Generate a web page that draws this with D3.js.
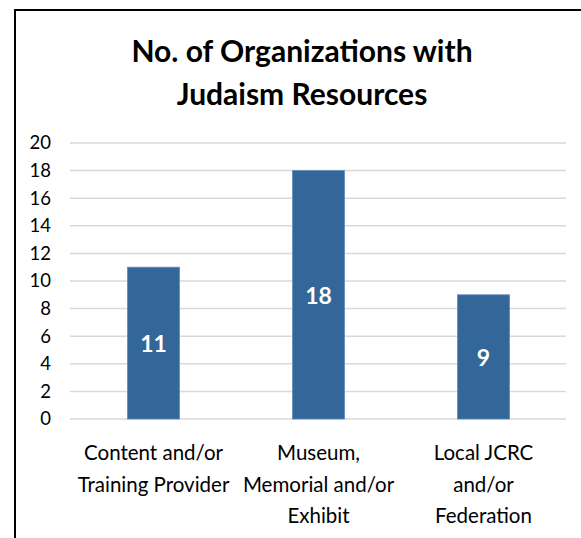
<!DOCTYPE html>
<html>
<head>
<meta charset="utf-8">
<script src="https://cdn.jsdelivr.net/npm/d3@7"></script>
<style>
  body { margin: 0; background: #fff; }
  text { font-family: Lato, "Open Sans", sans-serif; }
</style>
</head>
<body>
<div id="main"></div>
<script>
const categories = [
  ["Content and/or", "Training Provider"],
  ["Museum,", "Memorial and/or", "Exhibit"],
  ["Local JCRC", "and/or", "Federation"]
];
const values = [11, 18, 9];
const yTicks = [0, 2, 4, 6, 8, 10, 12, 14, 16, 18, 20];
const titleLines = ["No. of Organizations with", "Judaism Resources"];

const width = 581, height = 538;
const plot = { left: 71, right: 566, top: 143, bottom: 419 };

const svg = d3.select("#main")
  .append("svg")
  .attr("width", width)
  .attr("height", height);

// chart frame (only left and top edges are visible in the crop)
svg.append("path")
  .attr("d", `M15,${height} V10 H${width}`)
  .attr("fill", "none")
  .attr("stroke", "#000")
  .attr("stroke-width", 2);

const x = d3.scaleBand()
  .domain(d3.range(values.length))
  .range([plot.left, plot.right])
  .paddingInner(0.685)
  .paddingOuter(0.3425);

const y = d3.scaleLinear()
  .domain([0, 20])
  .range([plot.bottom, plot.top]);

// gridlines
svg.append("g")
  .selectAll("line")
  .data(yTicks)
  .join("line")
  .attr("x1", plot.left - 1)
  .attr("x2", plot.right)
  .attr("y1", d => y(d))
  .attr("y2", d => y(d))
  .attr("stroke", "#d9d9d9")
  .attr("stroke-width", 1.5);

// y axis labels
const yAxis = svg.append("g")
  .attr("transform", `translate(${plot.left - 20},0)`)
  .call(d3.axisLeft(y).tickValues(yTicks).tickSize(0).tickPadding(0));
yAxis.select(".domain").remove();
yAxis.selectAll("text")
  .attr("font-family", "Lato, sans-serif")
  .attr("font-size", 18.5)
  .attr("fill", "#000");

// bars
svg.append("g")
  .selectAll("rect")
  .data(values)
  .join("rect")
  .attr("x", (d, i) => x(i))
  .attr("y", d => y(d))
  .attr("width", x.bandwidth())
  .attr("height", d => y(0) - y(d))
  .attr("fill", "#336699")
  .attr("stroke", "#5f8cbc")
  .attr("stroke-width", 0.8);

// value labels
svg.append("g")
  .selectAll("text")
  .data(values)
  .join("text")
  .attr("x", (d, i) => x(i) + x.bandwidth() / 2)
  .attr("y", d => (y(d) + y(0)) / 2 + 1)
  .attr("dy", "0.36em")
  .attr("text-anchor", "middle")
  .attr("font-size", 23)
  .attr("font-weight", "bold")
  .attr("fill", "#fff")
  .text(d => d);

// category labels
svg.append("g")
  .selectAll("text")
  .data(categories)
  .join("text")
  .attr("text-anchor", "middle")
  .attr("font-size", 20.5)
  .attr("fill", "#000")
  .each(function(lines, i) {
    d3.select(this).selectAll("tspan")
      .data(lines)
      .join("tspan")
      .attr("x", x(i) + x.bandwidth() / 2)
      .attr("y", (d, j) => 460 + j * 31.5)
      .text(d => d);
  });

// title
svg.append("text")
  .attr("text-anchor", "middle")
  .attr("font-size", 30)
  .attr("font-weight", "bold")
  .attr("fill", "#000")
  .selectAll("tspan")
  .data(titleLines)
  .join("tspan")
  .attr("x", 302)
  .attr("y", (d, i) => 62 + i * 43)
  .text(d => d);
</script>
</body>
</html>
